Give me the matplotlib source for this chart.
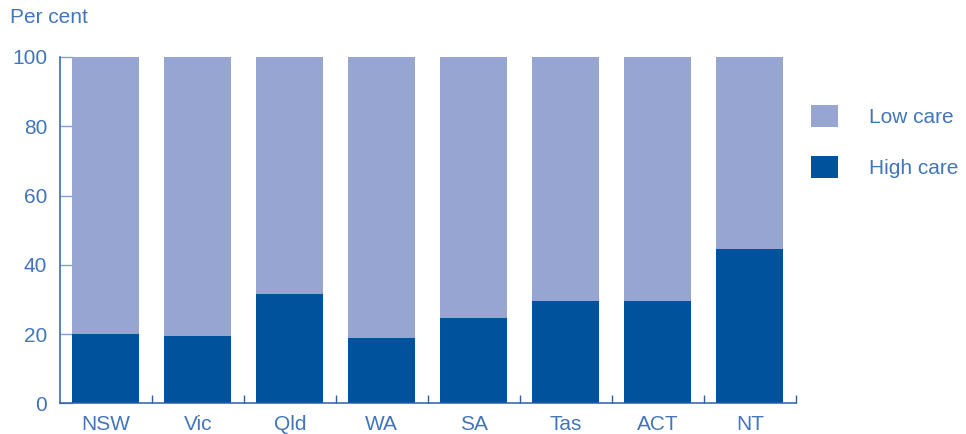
import numpy as np
import matplotlib.pyplot as plt

plt.rcParams['font.family'] = ['Liberation Sans', 'DejaVu Sans']

states = ['NSW', 'Vic', 'Qld', 'WA', 'SA', 'Tas', 'ACT', 'NT']
high_care = np.array([20.0, 19.5, 31.6, 18.9, 24.7, 29.6, 29.6, 44.6])
low_care = 100 - high_care
yticks = [0, 20, 40, 60, 80, 100]

dark = '#01529c'
light = '#96a5d1'
txt = '#4275b9'
axc = '#2a5fa5'

fig = plt.figure(figsize=(9.66, 4.34), dpi=100)
ax = fig.add_axes([0.0618, 0.0703, 0.7622, 0.7984])

x = np.arange(len(states))
ax.bar(x, high_care, width=0.728, color=dark, label='High care', zorder=2)
ax.bar(x, low_care, width=0.728, bottom=high_care, color=light, label='Low care', zorder=2)

ax.set_xlim(-0.5, 7.5)
ax.set_ylim(0, 100)
ax.set_yticks(yticks)
ax.set_xticks(x)
ax.set_xticklabels(states)
ax.set_xticks(np.arange(0.5, 8, 1), minor=True)

for s in ['top', 'right']:
    ax.spines[s].set_visible(False)
for s in ['left', 'bottom']:
    ax.spines[s].set_color(axc)
    ax.spines[s].set_linewidth(1.1)

ax.tick_params(axis='y', direction='in', length=9, width=1, color='#7f9fcf',
               labelsize=15, labelcolor=txt, pad=9)
ax.tick_params(axis='x', which='major', length=0, labelsize=15, labelcolor=txt, pad=8)
ax.tick_params(axis='x', which='minor', direction='in', length=6, width=1, color=axc)

fig.text(0.01, 0.96, 'Per cent', fontsize=15, color=txt, va='center', ha='left')

h, l = ax.get_legend_handles_labels()
leg = fig.legend(h[::-1], l[::-1], loc='upper left', bbox_to_anchor=(0.831, 0.778),
                 frameon=False, fontsize=15, handlelength=1.3, handleheight=1.25,
                 labelspacing=1.4, handletextpad=1.5, borderaxespad=0)
for t in leg.get_texts():
    t.set_color(txt)

fig.savefig('out.png', dpi=100)
